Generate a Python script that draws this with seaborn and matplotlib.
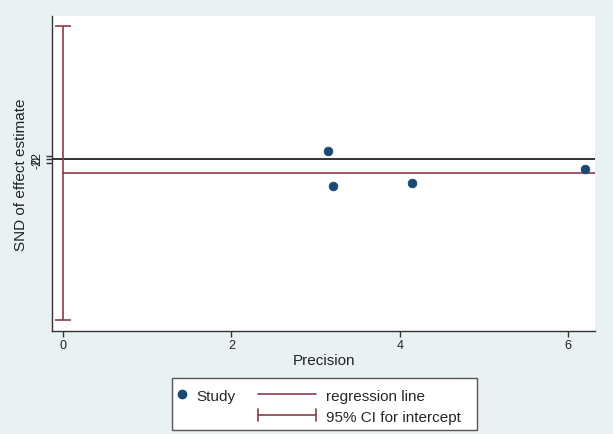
import numpy as np
import pandas as pd
import seaborn as sns
import matplotlib.pyplot as plt
from matplotlib.lines import Line2D
from matplotlib.patches import Rectangle
from matplotlib.legend_handler import HandlerBase

# Egger test data
precision = [3.15, 3.2, 4.15, 6.2]
snd = [4.6, -14.9, -13.7, -5.7]
intercept = -7.5
slope = 0.0
ci_low, ci_high = -92.0, 76.5
x_ticks = [0, 2, 4, 6]
y_ticks = [-2, 0, 2]

df = pd.DataFrame({'precision': precision, 'snd': snd})

sns.set_style('white')
plt.rcParams['font.family'] = ['Liberation Sans', 'DejaVu Sans']

bg = '#e9f1f3'
red = '#8c3b4b'
blue = '#1a4a72'


class CapLineHandler(HandlerBase):
    # legend key: horizontal line with a vertical cap at each end
    def create_artists(self, legend, orig_handle, xdescent, ydescent,
                       width, height, fontsize, trans):
        y = height / 2 - ydescent
        x0, x1 = -xdescent, width - xdescent
        h = height * 0.55
        lines = [
            Line2D([x0, x1], [y, y]),
            Line2D([x0, x0], [y - h, y + h]),
            Line2D([x1, x1], [y - h, y + h]),
        ]
        for ln in lines:
            ln.set_color(red)
            ln.set_linewidth(1.2)
            ln.set_transform(trans)
        return lines


fig = plt.figure(figsize=(6.13, 4.35), dpi=100, facecolor=bg)
ax = fig.add_axes([0.085, 0.237, 0.886, 0.724])
ax.set_facecolor('white')

ax.axhline(0, color='#222222', lw=1.3, zorder=1)
xs = np.array([0, 6.32])
ax.plot(xs, intercept + slope * xs, color=red, lw=1.2, zorder=2)
ax.errorbar([0], [(ci_low + ci_high) / 2], yerr=[[(ci_high - ci_low) / 2]],
            fmt='none', ecolor=red, elinewidth=1.2, capsize=6, capthick=1.2, zorder=2)
sns.scatterplot(data=df, x='precision', y='snd', ax=ax, color=blue, s=40,
                edgecolor=blue, zorder=3, legend=False)

ax.set_xlim(-0.13, 6.32)
ax.set_ylim(-98, 82)
ax.set_xticks(x_ticks)
ax.set_yticks(y_ticks)
ax.set_yticklabels([str(t) for t in y_ticks], rotation=90, va='center')
ax.tick_params(axis='both', length=4, width=1, color='#333333', labelsize=9,
               labelcolor='#222222', left=True, bottom=True, pad=2)
for side in ['top', 'right']:
    ax.spines[side].set_visible(False)
for side in ['left', 'bottom']:
    ax.spines[side].set_color('#333333')
    ax.spines[side].set_linewidth(1)

ax.set_xlabel('Precision', fontsize=11, labelpad=1, color='#222222')
ax.set_ylabel('SND of effect estimate', fontsize=11, labelpad=3, color='#222222')

# legend box drawn by hand, with two frameless legends inside
W, H = 613, 435
fig.patches.append(Rectangle((172 / W, 1 - 431 / H), 305 / W, 52 / H,
                             transform=fig.transFigure, facecolor='white',
                             edgecolor='#555555', linewidth=1, zorder=1))

study = Line2D([], [], marker='o', color=blue, linestyle='none', markersize=6)
leg1 = fig.legend([study], ['Study'], loc='upper left',
                  bbox_to_anchor=(164 / W, 1 - 379 / H), frameon=False,
                  fontsize=11, handlelength=1.0, handletextpad=0.4,
                  borderpad=0.2)
reg = Line2D([], [], color=red, lw=1.2)
ci = Line2D([], [], color=red, lw=1.2)
leg2 = fig.legend([reg, ci], ['regression line', '95% CI for intercept'],
                  loc='upper left', bbox_to_anchor=(247 / W, 1 - 379 / H),
                  frameon=False, fontsize=11, handlelength=3.8,
                  handletextpad=0.65, borderpad=0.2, labelspacing=0.45,
                  handler_map={ci: CapLineHandler()})
leg1.set_zorder(3)
leg2.set_zorder(3)

fig.savefig('out.png', dpi=100, facecolor=bg)
